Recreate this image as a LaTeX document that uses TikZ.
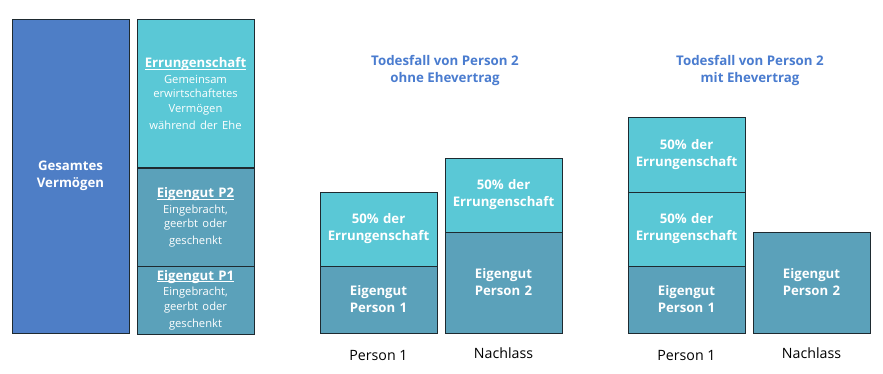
\documentclass[tikz,border=0pt]{standalone}
\usepackage{fontspec}
\setmainfont{Open Sans}
\definecolor{cBlue}{HTML}{4E7EC6}
\definecolor{cCyan}{HTML}{5AC8D6}
\definecolor{cTeal}{HTML}{5BA1BA}
\definecolor{cTitle}{HTML}{4A7CCF}
\definecolor{cEdge}{HTML}{1E2A30}
\newcommand\hdul[1]{\underline{\raisebox{0pt}[\height][0pt]{#1}}}
\begin{document}
\begin{tikzpicture}[x=1pt,y=-1pt,
  seg/.style={draw=cEdge, line width=0.9pt, rectangle, inner sep=0pt, minimum width=117pt,
    text=white, text width=114pt, align=center, font=\fontsize{13.2}{17}\selectfont\bfseries},
  cyanbox/.style={seg, fill=cCyan},
  tealbox/.style={seg, fill=cTeal},
  bluebox/.style={seg, fill=cBlue},
  ttl/.style={text=cTitle, align=center, font=\fontsize{13.3}{17}\selectfont\bfseries},
  lbl/.style={text=black, font=\fontsize{14.2}{16}\selectfont}
]
\useasboundingbox (0,0) rectangle (883,373);
% left
\node[bluebox, minimum height=314pt] (total) at (70.5,176) {Gesamtes\\Vermögen};
\node[cyanbox, minimum height=148pt] (err) at (195.5,93.5) {\hdul{Errungenschaft}\par\vspace{1.5pt}
  \fontsize{11.2}{14.2}\selectfont\mdseries Gemeinsam\\erwirtschaftetes\\Vermögen\\während der Ehe};
\node[tealbox, minimum height=98pt] (p2) at (195.5,217.5) {\hdul{Eigengut P2}\par\vspace{1.5pt}
  \fontsize{11.2}{14.2}\selectfont\mdseries Eingebracht,\\geerbt oder\\geschenkt};
\node[tealbox, minimum height=68pt] (p1) at (195.5,300) {\hdul{Eigengut P1}\par\vspace{1.5pt}
  \fontsize{11.2}{14.2}\selectfont\mdseries Eingebracht,\\geerbt oder\\geschenkt};
% middle
\node[ttl] (t1) at (445,70.5) {Todesfall von Person 2\\ohne Ehevertrag};
\node[cyanbox, minimum height=74pt] (m1e) at (378.5,229) {50\% der\\Errungenschaft};
\node[tealbox, minimum height=67pt] (m1p) at (378.5,299.5) {Eigengut\\Person 1};
\node[cyanbox, minimum height=74pt] (m2e) at (503.5,195) {50\% der\\Errungenschaft};
\node[tealbox, minimum height=101pt] (m2p) at (503.5,282.5) {Eigengut\\Person 2};
\node[lbl] (ml1) at (378.5,355) {Person 1};
\node[lbl] (ml2) at (503.5,353) {Nachlass};
% right
\node[ttl] (t2) at (750,70.5) {Todesfall von Person 2\\mit Ehevertrag};
\node[cyanbox, minimum height=75pt] (r1a) at (686.5,154.5) {50\% der\\Errungenschaft};
\node[cyanbox, minimum height=74pt] (r1b) at (686.5,229) {50\% der\\Errungenschaft};
\node[tealbox, minimum height=67pt] (r1p) at (686.5,299.5) {Eigengut\\Person 1};
\node[tealbox, minimum height=101pt] (r2p) at (811.5,282.5) {Eigengut\\Person 2};
\node[lbl] (rl1) at (686.5,355) {Person 1};
\node[lbl] (rl2) at (811.5,353) {Nachlass};
\end{tikzpicture}
\end{document}
